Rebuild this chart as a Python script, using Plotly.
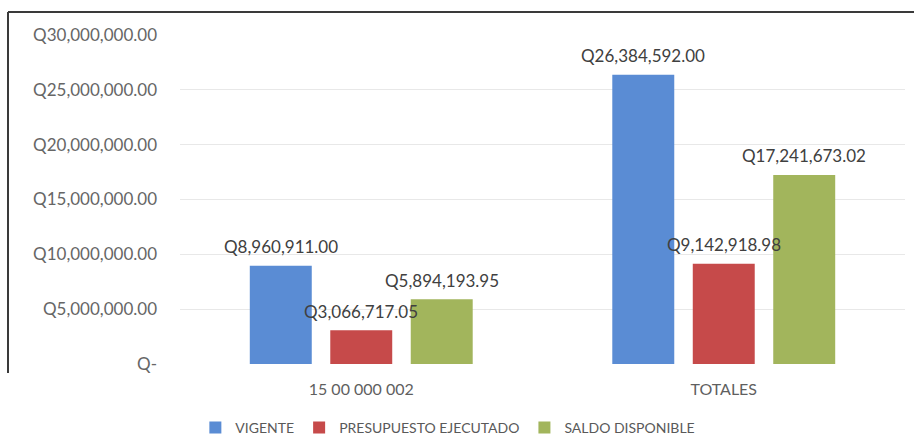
import plotly.graph_objects as go

# Budget data (quetzales)
categories = ["15 00 000 002", "TOTALES"]
vigente = [8960911.00, 26384592.00]
ejecutado = [3066717.05, 9142918.98]
saldo = [5894193.95, 17241673.02]

series_names = ["VIGENTE", "PRESUPUESTO EJECUTADO", "SALDO DISPONIBLE"]
series_colors = ["#5a8cd4", "#c64a4a", "#a2b55c"]

tick_values = [0, 5000000, 10000000, 15000000, 20000000, 25000000, 30000000]
tick_labels = ["Q-", "Q5,000,000.00", "Q10,000,000.00", "Q15,000,000.00",
               "Q20,000,000.00", "Q25,000,000.00", "Q30,000,000.00"]

W, H = 914, 437
ML, MR, MT, MB = 180, 9, 35, 73
FONT = "Lato, 'Open Sans', sans-serif"
BARGAP, GROUPGAP = 0.334, 0.23

all_series = [vigente, ejecutado, saldo]

fig = go.Figure()
for name, vals, color in zip(series_names, all_series, series_colors):
    fig.add_trace(go.Bar(
        x=categories, y=vals, name=name,
        marker=dict(color=color, line=dict(width=0)),
        cliponaxis=False,
    ))

# value labels, placed above each bar and drawn on top of all bars
pw = W - ML - MR
ph = H - MT - MB
cat_px = pw / len(categories)
slot_px = cat_px * (1 - BARGAP) / len(all_series)
for si, vals in enumerate(all_series):
    offset = (si - (len(all_series) - 1) / 2) * slot_px
    for cat, v in zip(categories, vals):
        fig.add_annotation(
            x=cat, y=v, xref="x", yref="y",
            text=f"Q{v:,.2f}", showarrow=False,
            xshift=offset, yshift=19, yanchor="middle", xanchor="center",
            font=dict(family=FONT, size=17, color="#404040"),
        )

# chart frame: top and left edges
def px_x(x):
    return (x - ML) / pw
def px_y(y):
    return (H - MB - y) / ph

frame = dict(color="#3a3a3a", width=2)
fig.add_shape(type="line", xref="paper", yref="paper",
              x0=px_x(8), x1=px_x(W + 5), y0=px_y(12), y1=px_y(12), line=frame)
fig.add_shape(type="line", xref="paper", yref="paper",
              x0=px_x(8), x1=px_x(8), y0=px_y(12), y1=px_y(373), line=frame)

fig.update_layout(
    width=W, height=H,
    margin=dict(l=ML, r=MR, t=MT, b=MB),
    paper_bgcolor="white", plot_bgcolor="white",
    barmode="group", bargap=BARGAP, bargroupgap=GROUPGAP,
    font=dict(family=FONT, size=16, color="#595959"),
    showlegend=True,
    legend=dict(
        orientation="h", xref="container", x=0.49, xanchor="center",
        yref="container", y=(H - 428) / H, yanchor="middle",
        font=dict(family=FONT, size=14, color="#595959"),
        itemwidth=30, tracegroupgap=0,
    ),
    xaxis=dict(showgrid=False, showline=False, zeroline=False,
               tickfont=dict(family=FONT, size=16, color="#5f5f5f"),
               ticklabelstandoff=14),
    yaxis=dict(range=[0, 30000000], tickvals=tick_values, ticktext=tick_labels,
               showgrid=True, gridcolor="#e8e8e8", gridwidth=1,
               zeroline=False, showline=False,
               tickfont=dict(family=FONT, size=17, color="#666666"),
               ticklabelstandoff=22),
)

fig.write_html("out.html")
